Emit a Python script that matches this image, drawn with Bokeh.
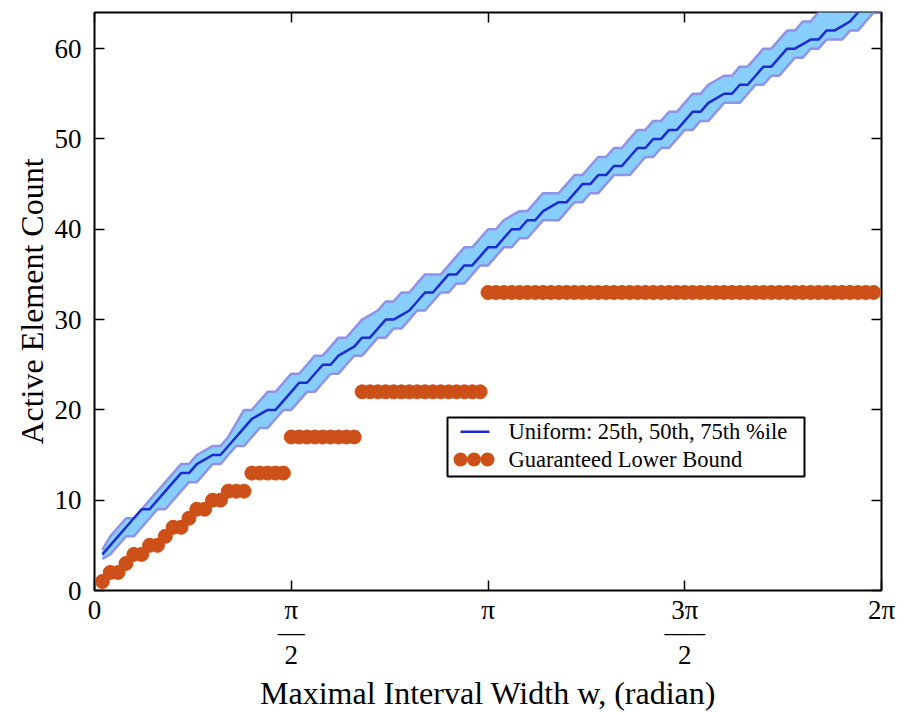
import numpy as np
from bokeh.plotting import figure
from bokeh.models import Range1d, FixedTicker, LinearAxis, BoxAnnotation, Label
from bokeh.embed import file_html
from bokeh.resources import INLINE

# ---------------- data ----------------
n_steps = 100
step_index = list(range(1, 101))
q25 = [3.5, 4, 5, 6, 6, 7, 8, 9, 9, 10,
       11, 12, 12, 13, 14, 14, 15, 16, 16, 17,
       18, 18, 19, 20, 20, 21, 22, 22, 23, 24,
       24, 25, 26, 26, 27, 28, 28, 29, 29, 30,
       31, 31, 32, 33, 33, 34, 34, 35, 36, 36,
       37, 38, 38, 39, 39, 40, 41, 41, 41, 42,
       43, 43, 44, 44, 45, 46, 46, 46, 47, 48,
       48, 49, 49, 50, 51, 51, 52, 52, 53, 54,
       54, 54, 55, 56, 56, 57, 57, 58, 59, 59,
       60, 60, 61, 61, 61, 62, 62, 63, 64, 64]
q50 = [4, 5, 6, 7, 8, 9, 9, 10, 11, 12,
       13, 13, 14, 14.5, 15, 15, 16, 17, 18, 19,
       19.5, 20, 20, 21, 22, 23, 23, 24, 25, 25,
       26, 26.5, 27, 28, 28, 29, 30, 30, 30.5, 31,
       32, 33, 33, 34, 35, 35, 36, 36, 37, 38,
       38, 39, 40, 40, 41, 41, 42, 42.5, 43, 43,
       44, 45, 45, 46, 46, 47, 47, 48, 49, 49,
       50, 50, 51, 51, 52, 53, 53, 54, 54.5, 55,
       55, 56, 56, 57, 58, 58, 59, 60, 60, 60.5,
       61, 61, 62, 62, 62.5, 63, 64, 64.5, 65, 66]
q75 = [4.5, 6, 7, 8, 8, 9, 10, 11, 12, 13,
       14, 14, 15, 15.5, 16, 16, 17, 18.5, 20, 20,
       21, 22, 22, 23, 24, 24, 25, 26, 26, 27,
       28, 28, 29, 30, 30.5, 31, 32, 32, 33, 33,
       34, 35, 35, 35, 36, 37, 38, 38, 39, 40,
       40, 41, 41.5, 42, 42, 43, 44, 44, 44, 45,
       46, 46, 47, 48, 48, 49, 49, 50, 51, 51,
       52, 52, 53, 53, 54, 55, 55, 56, 56.5, 57,
       57, 58, 58, 59, 60, 60, 61, 62, 62, 63,
       63, 64, 64.5, 65, 65, 66, 66.5, 67, 67.5, 68]
lb_index = list(range(1, 100))
lower_bound = ([1, 2, 2, 3, 4, 4, 5, 5, 6, 7, 7, 8, 9, 9, 10, 10, 11, 11, 11]
               + [13] * 5 + [17] * 9 + [22] * 16 + [33] * 50)

x_ticks = [0, np.pi / 2, np.pi, 3 * np.pi / 2, 2 * np.pi]
x_tick_labels = ["0", "\u03c0\n\u2014\n2", "\u03c0", "3\u03c0\n\u2014\u2013\n2", "2\u03c0"]
y_ticks = [0, 10, 20, 30, 40, 50, 60]

x_band = [k * 2 * np.pi / n_steps for k in step_index]
x_lb = [k * 2 * np.pi / n_steps for k in lb_index]

# ---------------- style ----------------
FONT = "Liberation Serif"
FILL = "#87CEFA"
EDGE = "#8f92e8"
MED = "#1c2bd4"
ORANGE = "#cd5019"

W, H = 903, 713
FL, FR, FT, FB = 94, 881, 12, 590

p = figure(width=W, height=H, x_range=Range1d(0, 2 * np.pi), y_range=Range1d(0, 64),
           output_backend="svg", toolbar_location=None,
           min_border_left=FL, min_border_right=W - FR,
           min_border_top=FT, min_border_bottom=H - FB)
p.grid.visible = False
p.outline_line_color = "black"
p.outline_line_width = 2
p.outline_line_alpha = 1
p.background_fill_color = "white"
p.border_fill_color = "white"

# band + median
p.varea(x=x_band, y1=q25, y2=q75, fill_color=FILL, fill_alpha=1)
p.line(x=x_band, y=q25, line_color=EDGE, line_width=2.5)
p.line(x=x_band, y=q75, line_color=EDGE, line_width=2.5)
p.line(x=x_band, y=q50, line_color=MED, line_width=2.5)
# lower bound dots
p.scatter(x=x_lb, y=lower_bound, size=14, fill_color=ORANGE, line_color=ORANGE)

def style_axis(ax):
    ax.axis_line_color = None
    ax.major_tick_in = 10
    ax.major_tick_out = 0
    ax.minor_tick_in = 0
    ax.minor_tick_out = 0
    ax.major_tick_line_color = "black"
    ax.major_tick_line_width = 1.5
    ax.major_label_text_font = FONT
    ax.major_label_text_font_size = "27px"
    ax.major_label_text_color = "black"
    ax.axis_label_text_font = FONT
    ax.axis_label_text_font_size = "32px"
    ax.axis_label_text_font_style = "normal"
    ax.axis_label_text_color = "black"

xa = p.xaxis[0]
xa.ticker = FixedTicker(ticks=x_ticks)
xa.major_label_overrides = {t: l for t, l in zip(x_ticks, x_tick_labels)}
xa.axis_label = "Maximal Interval Width w, (radian)"
style_axis(xa)
xa.major_label_standoff = 4
xa.axis_label_standoff = 2
xa.major_label_text_line_height = 0.75

ya = p.yaxis[0]
ya.ticker = FixedTicker(ticks=y_ticks)
ya.axis_label = "Active Element Count"
style_axis(ya)
ya.major_label_standoff = 13
ya.axis_label_standoff = 2

top = LinearAxis(ticker=FixedTicker(ticks=x_ticks),
                 major_label_overrides={t: "" for t in x_ticks})
right = LinearAxis(ticker=FixedTicker(ticks=y_ticks),
                   major_label_overrides={t: "" for t in y_ticks})
for ax in (top, right):
    style_axis(ax)
    ax.major_label_standoff = 0
p.add_layout(top, "above")
p.add_layout(right, "right")

# ---------------- legend (pixel layout -> data coords) ----------------
def dx(px):
    return (px - FL) / (FR - FL) * 2 * np.pi

def dy(py):
    return (FB - py) / (FB - FT) * 64

p.add_layout(BoxAnnotation(left=dx(447), right=dx(804), top=dy(417), bottom=dy(476),
                           fill_color="white", fill_alpha=1,
                           line_color="black", line_width=2, line_alpha=1))
p.add_layout(BoxAnnotation(left=dx(460), right=dx(489), top=dy(430), bottom=dy(432.5),
                           fill_color=MED, fill_alpha=1, line_color=None))
for cx in (460, 473.5, 487):
    p.add_layout(BoxAnnotation(left=dx(cx - 7), right=dx(cx + 7), top=dy(452), bottom=dy(466),
                               border_radius=7, fill_color=ORANGE, fill_alpha=1,
                               line_color=None))
p.add_layout(Label(x=dx(508), y=dy(431), text="Uniform: 25th, 50th, 75th %ile",
                   text_font=FONT, text_font_size="22.5px", text_baseline="middle",
                   text_color="black"))
p.add_layout(Label(x=dx(508), y=dy(459), text="Guaranteed Lower Bound",
                   text_font=FONT, text_font_size="22.5px", text_baseline="middle",
                   text_color="black"))

open("out.html", "w").write(file_html(p, INLINE))
